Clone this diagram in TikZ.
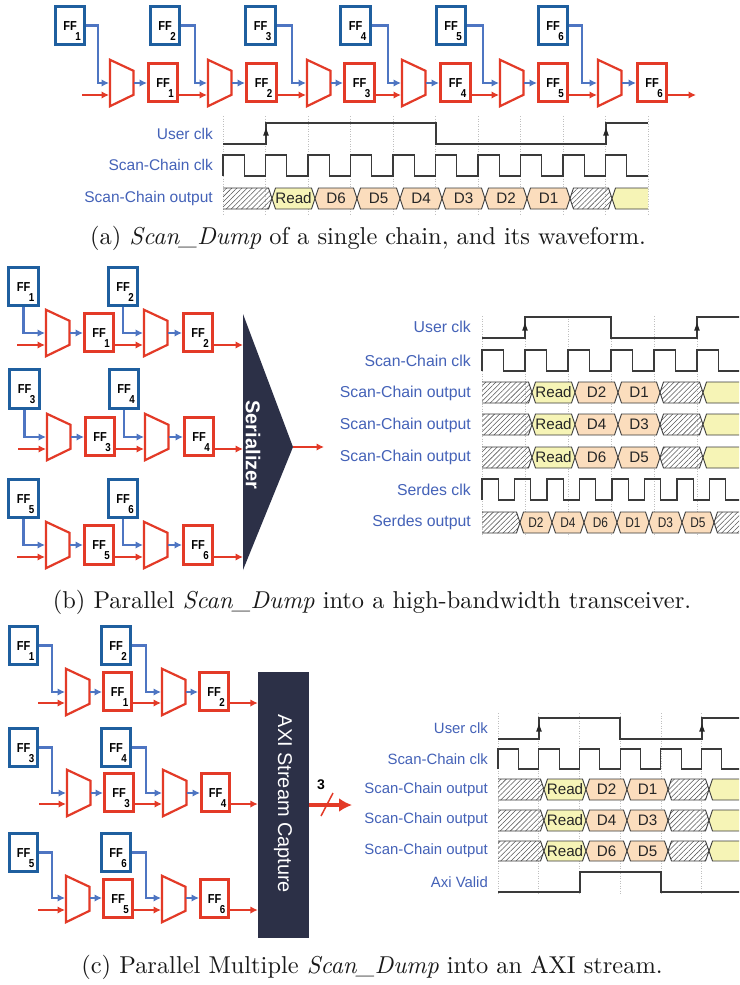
\documentclass[tikz,border=0pt]{standalone}
\usepackage{fontspec}
\usetikzlibrary{arrows.meta,patterns.meta,calc}
\newfontfamily\lsans{Liberation Sans}
\newfontfamily\lsnarrow[FakeStretch=0.85]{Liberation Sans}
\definecolor{boxblue}{HTML}{1F5F9F}
\definecolor{wireblue}{HTML}{4E75C2}
\definecolor{redc}{HTML}{E33A27}
\definecolor{labblue}{HTML}{4462B8}
\definecolor{darkbox}{HTML}{2C3047}
\definecolor{orangec}{HTML}{FBDDBD}
\definecolor{yellowc}{HTML}{F6F4B6}
\definecolor{sigc}{HTML}{3A3A3A}
\tikzset{
  ffblue/.style={draw=boxblue,line width=2.6,fill=white,inner sep=0},
  ffred/.style={draw=redc,line width=2.6,fill=white,inner sep=0},
  muxs/.style={draw=redc,line width=2.2,fill=white,miter limit=10},
  bw/.style={draw=wireblue,line width=2.3,-{Latex[length=7.5,width=7.5]}},
  rw/.style={draw=redc,line width=2.3,-{Latex[length=7.5,width=7.5]}},
  sig/.style={draw=sigc,line width=1.1},
  griddot/.style={draw=gray!50,line width=.5,dotted},
  cellline/.style={draw=sigc,line width=.9},
  hatch/.style={pattern={Lines[angle=45,distance=3.6pt,line width=.55pt]},pattern color=gray!70!black},
  celltext/.style={font=\lsans\fontsize{15.2}{18}\selectfont,text=black!85,inner sep=0},
  capt/.style={font=\fontsize{10}{12}\selectfont,text=black!90,inner sep=0,scale=2.44},
}
\newcounter{nn}
% FF box: name, x1, y1, x2, y2, digit, style
\newcommand{\ffn}[7]{%
  \pgfmathsetmacro{\ffw}{#4-#2-2.6}\pgfmathsetmacro{\ffh}{#5-#3-2.6}%
  \node[#7,minimum width=\ffw,minimum height=\ffh] (#1) at ({(#2+#4)/2},{(#3+#5)/2}) {};
  \node[font=\lsnarrow\bfseries\fontsize{13}{13}\selectfont,inner sep=0] (#1-t) at ($(#1.center)+(0,0.5)$) {FF};
  \node[font=\lsnarrow\bfseries\fontsize{11.5}{12}\selectfont,inner sep=0] (#1-s) at ($(#1.center)+(8,11)$) {#6};
}
% mux: name, x1, ytop, blue y, red y
\newcommand{\muxn}[5]{%
  \draw[muxs] ({#2+1},{#3+1.8}) -- ({#2+24.5},{#3+12.8}) -- ({#2+24.5},{#3+36.8}) -- ({#2+1},{#3+48.2}) -- cycle;
  \coordinate (#1-b) at (#2,#4);
  \coordinate (#1-r) at (#2,#5);
  \coordinate (#1-o) at ({#2+25},#4);
}
\newcommand{\lab}[3]{\stepcounter{nn}\node[anchor=east,inner sep=0,text=labblue,font=\lsans\fontsize{\labsize}{18}\selectfont] (n\arabic{nn}) at (#1,#2) {#3};}
% clock: x0 period lastindex yhi ylo
\newcommand{\clockw}[5]{%
  \draw[sig] (#1,#5) \foreach \k [evaluate=\k as \xa using #1+\k*#2, evaluate=\k as \xb using #1+(\k+.5)*#2, evaluate=\k as \xc using #1+(\k+1)*#2] in {0,...,#3} { -- (\xa,#4) -- (\xb,#4) -- (\xb,#5) -- (\xc,#5) };
}
\newcommand{\edgearrow}[3]{%
  \fill[black!85] (#1,#2) -- ({#1-2.8},{#2+7.5}) -- ({#1+2.8},{#2+7.5}) -- cycle;
}
% hexagon: x1 x2 y1 y2 fill text
\newcommand{\hx}[6]{%
  \draw[cellline,fill=#5] (#1,{(#3+#4)/2}) -- ({#1+3.5},#3) -- ({#2-3.5},#3) -- (#2,{(#3+#4)/2}) -- ({#2-3.5},#4) -- ({#1+3.5},#4) -- cycle;
  \stepcounter{nn}\node[celltext] (n\arabic{nn}) at ({(#1+#2)/2},{(#3+#4)/2}) {#6};
}
\newcommand{\hxs}[6]{%
  \draw[cellline,fill=#5] (#1,{(#3+#4)/2}) -- ({#1+3.5},#3) -- ({#2-3.5},#3) -- (#2,{(#3+#4)/2}) -- ({#2-3.5},#4) -- ({#1+3.5},#4) -- cycle;
  \stepcounter{nn}\node[inner sep=0,text=black!85,font=\lsnarrow\fontsize{14}{16}\selectfont] (n\arabic{nn}) at ({(#1+#2)/2},{(#3+#4)/2}) {#6};
}
\newcommand{\hh}[4]{\draw[cellline,hatch] (#1,{(#3+#4)/2}) -- ({#1+3.5},#3) -- ({#2-3.5},#3) -- (#2,{(#3+#4)/2}) -- ({#2-3.5},#4) -- ({#1+3.5},#4) -- cycle;}
\newcommand{\hstart}[4]{%
  \path[hatch] (#1,#3) -- ({#2-3.5},#3) -- (#2,{(#3+#4)/2}) -- ({#2-3.5},#4) -- (#1,#4) -- cycle;
  \draw[cellline] (#1,#3) -- ({#2-3.5},#3) -- (#2,{(#3+#4)/2}) -- ({#2-3.5},#4) -- (#1,#4);
}
\newcommand{\hend}[4]{%
  \path[hatch] (#2,#3) -- ({#1+3.5},#3) -- (#1,{(#3+#4)/2}) -- ({#1+3.5},#4) -- (#2,#4) -- cycle;
  \draw[cellline] (#2,#3) -- ({#1+3.5},#3) -- (#1,{(#3+#4)/2}) -- ({#1+3.5},#4) -- (#2,#4);
}
\newcommand{\yend}[4]{%
  \fill[yellowc] (#2,#3) -- ({#1+3.5},#3) -- (#1,{(#3+#4)/2}) -- ({#1+3.5},#4) -- (#2,#4) -- cycle;
  \draw[cellline] (#2,#3) -- ({#1+3.5},#3) -- (#1,{(#3+#4)/2}) -- ({#1+3.5},#4) -- (#2,#4);
}
% output row for (b): y1 y2 d1 d2
\newcommand{\rowb}[4]{%
  \hstart{482}{532}{#1}{#2}\hx{532}{575}{#1}{#2}{yellowc}{Read}\hx{575}{618}{#1}{#2}{orangec}{#3}\hx{618}{660}{#1}{#2}{orangec}{#4}\hh{660}{703}{#1}{#2}\yend{703}{740}{#1}{#2}}
\newcommand{\rowc}[4]{%
  \hstart{498}{544}{#1}{#2}\hx{544}{586}{#1}{#2}{yellowc}{Read}\hx{586}{627}{#1}{#2}{orangec}{#3}\hx{627}{668}{#1}{#2}{orangec}{#4}\hh{668}{709}{#1}{#2}\yend{709}{740}{#1}{#2}}
\begin{document}
\begin{tikzpicture}[x=1pt,y=-1pt]
\clip (0,0) rectangle (739,985);
\fill[white] (0,0) rectangle (739,985);

%% ---------- (a) ----------
\ffn{ab1}{54}{5}{86}{46}{1}{ffblue}
\ffn{ab2}{149}{5}{181}{46}{2}{ffblue}
\ffn{ab3}{244}{5}{277}{46}{3}{ffblue}
\ffn{ab4}{339}{5}{372}{46}{4}{ffblue}
\ffn{ab5}{435}{5}{467}{46}{5}{ffblue}
\ffn{ab6}{537}{5}{569}{46}{6}{ffblue}
\ffn{ar1}{147}{62}{179}{103}{1}{ffred}
\ffn{ar2}{245}{62}{278}{103}{2}{ffred}
\ffn{ar3}{343}{62}{376}{103}{3}{ffred}
\ffn{ar4}{439}{62}{472}{103}{4}{ffred}
\ffn{ar5}{537}{62}{569}{103}{5}{ffred}
\ffn{ar6}{636}{62}{668}{103}{6}{ffred}
\muxn{am1}{109}{58}{83}{95}
\muxn{am2}{207}{58}{83}{95}
\muxn{am3}{306}{58}{83}{95}
\muxn{am4}{401}{58}{83}{95}
\muxn{am5}{499}{58}{83}{95}
\muxn{am6}{597}{58}{83}{95}
\coordinate (ain) at (82,95);
\coordinate (aout) at (696,95);
\draw[bw] (ab1.east) -| (98,0 |- am1-b) -- (am1-b);
\draw[bw] (ab2.east) -| (195,0 |- am2-b) -- (am2-b);
\draw[bw] (ab3.east) -| (292,0 |- am3-b) -- (am3-b);
\draw[bw] (ab4.east) -| (388,0 |- am4-b) -- (am4-b);
\draw[bw] (ab5.east) -| (483,0 |- am5-b) -- (am5-b);
\draw[bw] (ab6.east) -| (582,0 |- am6-b) -- (am6-b);
\draw[bw] (am1-o) -- (am1-o -| ar1.west);
\draw[bw] (am2-o) -- (am2-o -| ar2.west);
\draw[bw] (am3-o) -- (am3-o -| ar3.west);
\draw[bw] (am4-o) -- (am4-o -| ar4.west);
\draw[bw] (am5-o) -- (am5-o -| ar5.west);
\draw[bw] (am6-o) -- (am6-o -| ar6.west);
\draw[rw] (ain) -- (am1-r);
\draw[rw] (ar1.east |- am2-r) -- (am2-r);
\draw[rw] (ar2.east |- am3-r) -- (am3-r);
\draw[rw] (ar3.east |- am4-r) -- (am4-r);
\draw[rw] (ar4.east |- am5-r) -- (am5-r);
\draw[rw] (ar5.east |- am6-r) -- (am6-r);
\draw[rw] (ar6.east |- aout) -- (aout);

\foreach \k in {0,...,10} \draw[griddot] ({223+42.5*\k},116) -- ({223+42.5*\k},214);
\def\labsize{15.5}
\lab{213}{134}{User clk}
\lab{213}{165}{Scan-Chain clk}
\lab{213}{198}{Scan-Chain output}
\draw[sig] (223,144) -- (266,144) -- (266,123) -- (436,123) -- (436,144) -- (606,144) -- (606,123) -- (648,123);
\edgearrow{266}{128}{}\edgearrow{606}{128}{}
\clockw{223}{42.5}{9}{155}{176}
\hstart{223}{272}{188}{209}
\hx{272}{315}{188}{209}{yellowc}{Read}
\hx{315}{357}{188}{209}{orangec}{D6}
\hx{357}{400}{188}{209}{orangec}{D5}
\hx{400}{442}{188}{209}{orangec}{D4}
\hx{442}{485}{188}{209}{orangec}{D3}
\hx{485}{527}{188}{209}{orangec}{D2}
\hx{527}{570}{188}{209}{orangec}{D1}
\hh{570}{612}{188}{209}
\yend{612}{648}{188}{209}
\node[capt] (capa) at (368,238) {(a) \textit{Scan\_Dump} of a single chain, and its waveform.};

%% ---------- (b) ----------
\ffn{bb1}{7}{266}{40}{307}{1}{ffblue}
\ffn{bb2}{107}{266}{139}{307}{2}{ffblue}
\ffn{bb3}{8}{368}{41}{410}{3}{ffblue}
\ffn{bb4}{108}{368}{140}{410}{4}{ffblue}
\ffn{bb5}{7}{478}{40}{519}{5}{ffblue}
\ffn{bb6}{107}{478}{139}{519}{6}{ffblue}
\ffn{br1}{83}{312}{115}{353}{1}{ffred}
\ffn{br2}{182}{312}{214}{353}{2}{ffred}
\ffn{br3}{84}{416}{116}{457}{3}{ffred}
\ffn{br4}{183}{416}{215}{457}{4}{ffred}
\ffn{br5}{83}{524}{115}{566}{5}{ffred}
\ffn{br6}{182}{524}{214}{566}{6}{ffred}
\muxn{bm1}{45}{308}{333}{345}
\muxn{bm2}{143}{308}{333}{345}
\muxn{bm3}{46}{412}{437}{449}
\muxn{bm4}{144}{412}{437}{449}
\muxn{bm5}{45}{520}{545}{557}
\muxn{bm6}{143}{520}{545}{557}
\coordinate (bin1) at (17,345);
\coordinate (bin2) at (18,449);
\coordinate (bin3) at (17,557);
\fill[darkbox] (243,314) -- (293,447) -- (243,570) -- cycle;
\node[rotate=-90,text=white,inner sep=0,font=\lsans\bfseries\fontsize{20}{22}\selectfont] (sertext) at (253,445) {Serializer};
\coordinate (ser1) at (243,345);
\coordinate (ser2) at (243,449);
\coordinate (ser3) at (243,557);
\coordinate (serout) at (293,447);
\coordinate (serend) at (324,447);
\foreach \b/\m in {bb1/bm1,bb2/bm2,bb3/bm3,bb4/bm4,bb5/bm5,bb6/bm6} \draw[bw] (\b.south) |- (\m-b);
\foreach \m/\r in {bm1/br1,bm2/br2,bm3/br3,bm4/br4,bm5/br5,bm6/br6} \draw[bw] (\m-o) -- (\m-o -| \r.west);
\draw[rw] (bin1) -- (bm1-r);
\draw[rw] (bin2) -- (bm3-r);
\draw[rw] (bin3) -- (bm5-r);
\draw[rw] (br1.east |- bm2-r) -- (bm2-r);
\draw[rw] (br3.east |- bm4-r) -- (bm4-r);
\draw[rw] (br5.east |- bm6-r) -- (bm6-r);
\draw[rw] (br2.east |- ser1) -- (ser1);
\draw[rw] (br4.east |- ser2) -- (ser2);
\draw[rw] (br6.east |- ser3) -- (ser3);
\draw[rw] (serout) -- (serend);

\foreach \k in {0,...,6} \draw[griddot] ({482+43*\k},316) -- ({482+43*\k},536);
\def\labsize{15.8}
\lab{471}{327}{User clk}
\lab{471}{361}{Scan-Chain clk}
\lab{471}{393}{Scan-Chain output}
\lab{471}{425}{Scan-Chain output}
\lab{471}{457}{Scan-Chain output}
\lab{471}{490}{Serdes clk}
\lab{471}{522}{Serdes output}
\draw[sig] (482,338) -- (525,338) -- (525,317) -- (611,317) -- (611,338) -- (697,338) -- (697,317) -- (740,317);
\edgearrow{525}{323}{}\edgearrow{697}{323}{}
\clockw{482}{43}{5}{350}{371}
\rowb{382}{403}{D2}{D1}
\rowb{414}{435}{D4}{D3}
\rowb{447}{468}{D6}{D5}
\clockw{482}{32.5}{7}{479}{500}
\hstart{482}{520}{512}{533}
\hxs{520}{552}{512}{533}{orangec}{D2}
\hxs{552}{584}{512}{533}{orangec}{D4}
\hxs{584}{617}{512}{533}{orangec}{D6}
\hxs{617}{649}{512}{533}{orangec}{D1}
\hxs{649}{682}{512}{533}{orangec}{D3}
\hxs{682}{714}{512}{533}{orangec}{D5}
\hend{714}{740}{512}{533}
\node[capt] (capb) at (372,602) {(b) Parallel \textit{Scan\_Dump} into a high-bandwidth transceiver.};

%% ---------- (c) ----------
\ffn{cb1}{8}{625}{39}{666}{1}{ffblue}
\ffn{cb2}{100}{625}{132}{666}{2}{ffblue}
\ffn{cb3}{8}{727}{39}{768}{3}{ffblue}
\ffn{cb4}{100}{727}{132}{768}{4}{ffblue}
\ffn{cb5}{8}{832}{39}{873}{5}{ffblue}
\ffn{cb6}{100}{832}{132}{873}{6}{ffblue}
\ffn{cr1}{102}{671}{133}{712}{1}{ffred}
\ffn{cr2}{198}{671}{230}{712}{2}{ffred}
\ffn{cr3}{103}{772}{135}{813}{3}{ffred}
\ffn{cr4}{200}{772}{231}{813}{4}{ffred}
\ffn{cr5}{102}{878}{134}{919}{5}{ffred}
\ffn{cr6}{199}{878}{230}{919}{6}{ffred}
\muxn{cm1}{65}{667}{692}{703}
\muxn{cm2}{161}{667}{692}{703}
\muxn{cm3}{66}{768}{793}{804}
\muxn{cm4}{162}{768}{793}{804}
\muxn{cm5}{65}{874}{898}{910}
\muxn{cm6}{161}{874}{898}{910}
\coordinate (cin1) at (38,703);
\coordinate (cin2) at (39,804);
\coordinate (cin3) at (38,910);
\node[fill=darkbox,minimum width=51,minimum height=266,inner sep=0] (axi) at (283.5,805) {};
\node[rotate=-90,text=white,inner sep=0,font=\lsans\fontsize{19.9}{22}\selectfont] (axitext) at (283,804) {AXI Stream Capture};
\draw[bw] (cb1.east) -| (52,0 |- cm1-b) -- (cm1-b);
\draw[bw] (cb2.east) -| (146,0 |- cm2-b) -- (cm2-b);
\draw[bw] (cb3.east) -| (52,0 |- cm3-b) -- (cm3-b);
\draw[bw] (cb4.east) -| (146,0 |- cm4-b) -- (cm4-b);
\draw[bw] (cb5.east) -| (52,0 |- cm5-b) -- (cm5-b);
\draw[bw] (cb6.east) -| (146,0 |- cm6-b) -- (cm6-b);
\foreach \m/\r in {cm1/cr1,cm2/cr2,cm3/cr3,cm4/cr4,cm5/cr5,cm6/cr6} \draw[bw] (\m-o) -- (\m-o -| \r.west);
\draw[rw] (cin1) -- (cm1-r);
\draw[rw] (cin2) -- (cm3-r);
\draw[rw] (cin3) -- (cm5-r);
\draw[rw] (cr1.east |- cm2-r) -- (cm2-r);
\draw[rw] (cr3.east |- cm4-r) -- (cm4-r);
\draw[rw] (cr5.east |- cm6-r) -- (cm6-r);
\draw[rw] (cr2.east |- cm2-r) -- (cm2-r -| axi.west);
\draw[rw] (cr4.east |- cm4-r) -- (cm4-r -| axi.west);
\draw[rw] (cr6.east |- cm6-r) -- (cm6-r -| axi.west);
\coordinate (busend) at (352,805);
\draw[redc,line width=4,-{Latex[length=13,width=14]}] (axi.east |- busend) -- (busend);
\coordinate (slasha) at (321,816);
\coordinate (slashb) at (333,793);
\draw[redc,line width=1.5] (slasha) -- (slashb);
\node[inner sep=0,font=\lsans\bfseries\fontsize{14}{15}\selectfont] (busw) at (321,785) {3};

\foreach \k in {0,...,6} \draw[griddot] ({498+40.7*\k},713) -- ({498+40.7*\k},894);
\def\labsize{14.9}
\lab{488}{728}{User clk}
\lab{488}{759}{Scan-Chain clk}
\lab{488}{790}{Scan-Chain output}
\lab{488}{820}{Scan-Chain output}
\lab{488}{851}{Scan-Chain output}
\lab{488}{882}{Axi Valid}
\draw[sig] (498,739) -- (539,739) -- (539,718) -- (620,718) -- (620,739) -- (702,739) -- (702,718) -- (740,718);
\edgearrow{539}{724}{}\edgearrow{702}{724}{}
\clockw{498}{40.7}{5}{749}{769}
\rowc{779}{800}{D2}{D1}
\rowc{810}{831}{D4}{D3}
\rowc{841}{861}{D6}{D5}
\draw[sig] (498,892) -- (580,892) -- (580,872) -- (661,872) -- (661,892) -- (740,892);
\node[capt] (capc) at (372,967) {(c) Parallel Multiple \textit{Scan\_Dump} into an AXI stream.};
\end{tikzpicture}
\end{document}
